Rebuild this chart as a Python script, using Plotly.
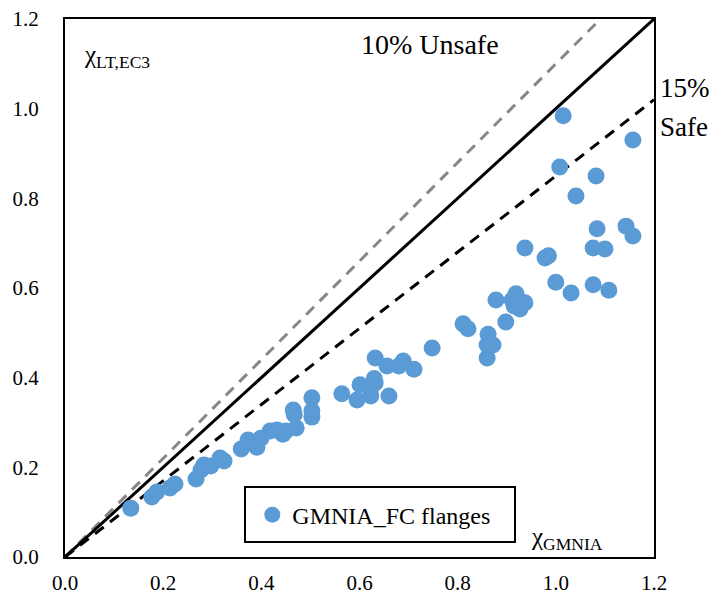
import plotly.graph_objects as go

chi_gmnia = [0.134, 0.177, 0.187, 0.214, 0.224, 0.267, 0.277, 0.283, 0.297, 0.316,
             0.324, 0.359, 0.373, 0.391, 0.399, 0.418, 0.432, 0.444, 0.450, 0.465,
             0.467, 0.471, 0.503, 0.503, 0.503, 0.564, 0.595, 0.601, 0.623, 0.632,
             0.623, 0.632, 0.656, 0.660, 0.680, 0.689, 0.711, 0.748, 0.811, 0.821,
             0.862, 0.860, 0.872, 0.860, 0.878, 0.898, 0.911, 0.919, 0.927, 0.937,
             0.937, 0.978, 0.985, 1.000, 1.031, 1.076, 1.108, 1.076, 1.100, 1.084,
             1.143, 1.157, 1.015, 1.157, 1.008, 1.041, 1.082, 0.630, 0.915]
chi_ec3 = [0.109, 0.134, 0.145, 0.154, 0.163, 0.174, 0.194, 0.205, 0.203, 0.221,
           0.214, 0.241, 0.261, 0.245, 0.265, 0.281, 0.283, 0.274, 0.281, 0.328,
           0.318, 0.288, 0.355, 0.326, 0.312, 0.364, 0.350, 0.384, 0.377, 0.388,
           0.359, 0.444, 0.426, 0.359, 0.426, 0.437, 0.419, 0.466, 0.520, 0.509,
           0.497, 0.473, 0.473, 0.444, 0.573, 0.524, 0.573, 0.587, 0.553, 0.567,
           0.689, 0.667, 0.672, 0.613, 0.589, 0.607, 0.595, 0.689, 0.687, 0.732,
           0.738, 0.716, 0.984, 0.930, 0.870, 0.805, 0.850, 0.398, 0.560]

ref_x = [0.0, 1.2]
unsafe_factor = 1.1
safe_factor = 0.85
tick_vals = [0.0, 0.2, 0.4, 0.6, 0.8, 1.0, 1.2]

FONT = "Liberation Serif"

fig = go.Figure()
fig.add_trace(go.Scatter(x=[0, 1.2 / unsafe_factor], y=[0, 1.2], mode="lines",
                         line=dict(color="#878787", width=3, dash="11px,8px"),
                         showlegend=False, hoverinfo="skip"))
fig.add_trace(go.Scatter(x=ref_x, y=ref_x, mode="lines",
                         line=dict(color="black", width=3),
                         showlegend=False, hoverinfo="skip"))
fig.add_trace(go.Scatter(x=ref_x, y=[v * safe_factor for v in ref_x], mode="lines",
                         line=dict(color="black", width=3, dash="11px,8px"),
                         showlegend=False, hoverinfo="skip"))
fig.add_trace(go.Scatter(x=chi_gmnia, y=chi_ec3, mode="markers",
                         name="GMNIA_FC flanges",
                         marker=dict(color="#5B9BD5", size=17, line=dict(width=0))))

axis_common = dict(range=[0, 1.2], tickvals=tick_vals, tickformat=".1f",
                   showgrid=False, zeroline=False, showline=True, linecolor="black",
                   linewidth=2, mirror=True, ticks="", automargin=False,
                   tickfont=dict(family=FONT, size=21, color="black"))
fig.update_xaxes(**axis_common, ticklabelstandoff=6)
fig.update_yaxes(**axis_common, ticklabelstandoff=20)

fig.update_layout(
    width=713, height=595,
    margin=dict(l=65, r=59, t=19, b=38),
    paper_bgcolor="white", plot_bgcolor="white",
    font=dict(family=FONT, color="black"),
    showlegend=True,
    legend=dict(x=0.318, y=0.078, xanchor="left", yanchor="middle",
                bgcolor="rgba(0,0,0,0)", borderwidth=0,
                font=dict(family=FONT, size=24, color="black"),
                itemwidth=30, tracegroupgap=0),
    shapes=[dict(type="rect", xref="paper", yref="paper",
                 x0=0.3056, x1=0.764, y0=0.028, y1=0.130,
                 line=dict(color="black", width=2), fillcolor="rgba(0,0,0,0)")],
    annotations=[
        dict(text="χ<sub>LT,EC3</sub>", xref="paper", yref="paper", x=0.029, y=0.93,
             xanchor="left", yanchor="middle", showarrow=False,
             font=dict(family=FONT, size=25)),
        dict(text="χ<sub>GMNIA</sub>", xref="paper", yref="paper", x=0.787, y=0.035,
             xanchor="left", yanchor="middle", showarrow=False,
             font=dict(family=FONT, size=25)),
        dict(text="10% Unsafe", xref="paper", yref="paper", x=0.499, y=0.952,
             xanchor="left", yanchor="middle", showarrow=False,
             font=dict(family=FONT, size=28)),
        dict(text="15%", xref="paper", yref="paper", x=1.006, y=0.872,
             xanchor="left", yanchor="middle", showarrow=False,
             font=dict(family=FONT, size=27)),
        dict(text="Safe", xref="paper", yref="paper", x=1.006, y=0.799,
             xanchor="left", yanchor="middle", showarrow=False,
             font=dict(family=FONT, size=27)),
    ],
)

fig.write_html("out.html", config={"displayModeBar": False},
               post_script="document.body.style.margin='0px';document.body.style.padding='0px';")
